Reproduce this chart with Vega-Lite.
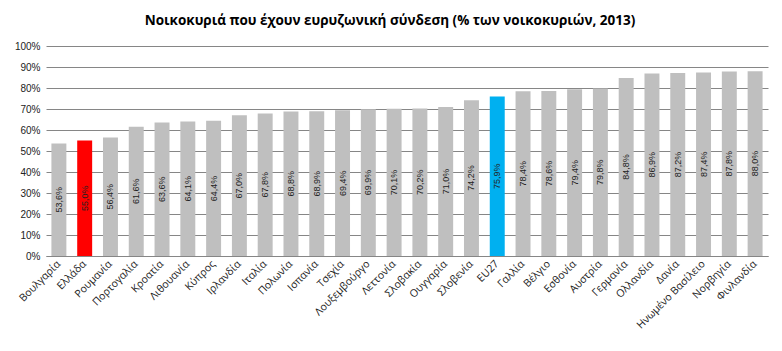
{
  "$schema": "https://vega.github.io/schema/vega-lite/v6.json",
  "width": 722,
  "height": 210,
  "autosize": "none",
  "padding": {"left": 46, "top": 46, "right": 14, "bottom": 95},
  "background": "white",
  "config": {
    "locale": {"number": {"decimal": ",", "thousands": ".", "grouping": [3], "currency": ["", " €"]}},
    "view": {"stroke": null},
    "font": "Open Sans"
  },
  "title": {
    "text": "Νοικοκυριά που έχουν ευρυζωνική σύνδεση (% των νοικοκυριών, 2013)",
    "fontSize": 13.5,
    "fontWeight": "bold",
    "font": "Open Sans",
    "color": "#000000",
    "anchor": "middle",
    "dx": -17,
    "offset": 14
  },
  "data": {
    "values": [
      {"country": "Βουλγαρία", "value": 0.536, "group": "other"},
      {"country": "Ελλάδα", "value": 0.550, "group": "gr"},
      {"country": "Ρουμανία", "value": 0.564, "group": "other"},
      {"country": "Πορτογαλία", "value": 0.616, "group": "other"},
      {"country": "Κροατία", "value": 0.636, "group": "other"},
      {"country": "Λιθουανία", "value": 0.641, "group": "other"},
      {"country": "Κύπρος", "value": 0.644, "group": "other"},
      {"country": "Ιρλανδία", "value": 0.670, "group": "other"},
      {"country": "Ιταλία", "value": 0.678, "group": "other"},
      {"country": "Πολωνία", "value": 0.688, "group": "other"},
      {"country": "Ισπανία", "value": 0.689, "group": "other"},
      {"country": "Τσεχία", "value": 0.694, "group": "other"},
      {"country": "Λουξεμβούργο", "value": 0.699, "group": "other"},
      {"country": "Λεττονία", "value": 0.701, "group": "other"},
      {"country": "Σλοβακία", "value": 0.702, "group": "other"},
      {"country": "Ουγγαρία", "value": 0.710, "group": "other"},
      {"country": "Σλοβενία", "value": 0.742, "group": "other"},
      {"country": "EU27", "value": 0.759, "group": "eu"},
      {"country": "Γαλλία", "value": 0.784, "group": "other"},
      {"country": "Βέλγιο", "value": 0.786, "group": "other"},
      {"country": "Εσθονία", "value": 0.794, "group": "other"},
      {"country": "Αυστρία", "value": 0.798, "group": "other"},
      {"country": "Γερμανία", "value": 0.848, "group": "other"},
      {"country": "Ολλανδία", "value": 0.869, "group": "other"},
      {"country": "Δανία", "value": 0.872, "group": "other"},
      {"country": "Ηνωμένο Βασίλειο", "value": 0.874, "group": "other"},
      {"country": "Νορβηγία", "value": 0.878, "group": "other"},
      {"country": "Φινλανδία", "value": 0.880, "group": "other"}
    ]
  },
  "encoding": {
    "x": {
      "field": "country",
      "type": "nominal",
      "sort": null,
      "scale": {"paddingInner": 0.42, "paddingOuter": 0.21},
      "axis": {
        "title": null,
        "labelAngle": -45,
        "labelAlign": "right",
        "labelBaseline": "middle",
        "labelFontSize": 10.5,
        "labelColor": "#222222",
        "labelPadding": 6,
        "ticks": false,
        "domainColor": "#868686",
        "labelOverlap": false
      }
    }
  },
  "layer": [
    {
      "mark": {"type": "bar"},
      "encoding": {
        "y": {
          "field": "value",
          "type": "quantitative",
          "scale": {"domain": [0, 1]},
          "axis": {
            "title": null,
            "format": ".0%",
            "values": [0, 0.1, 0.2, 0.3, 0.4, 0.5, 0.6, 0.7, 0.8, 0.9, 1],
            "labelOverlap": false,
            "labelFontSize": 10,
            "labelFont": "Liberation Sans",
            "labelColor": "#222222",
            "labelPadding": 6,
            "ticks": false,
            "domain": false,
            "gridColor": "#868686",
            "gridWidth": 1
          }
        },
        "color": {
          "field": "group",
          "type": "nominal",
          "scale": {"domain": ["other", "gr", "eu"], "range": ["#BFBFBF", "#FF0000", "#00B0F0"]},
          "legend": null
        }
      }
    },
    {
      "mark": {"type": "text", "angle": 270, "fontSize": 9, "font": "Liberation Sans", "color": "#222222", "align": "center", "baseline": "middle"},
      "encoding": {
        "y": {"field": "value", "type": "quantitative", "scale": {"domain": [0, 2]}, "axis": null},
        "text": {"field": "value", "type": "quantitative", "format": ".1%"}
      }
    }
  ],
  "resolve": {"scale": {"y": "independent"}}
}
